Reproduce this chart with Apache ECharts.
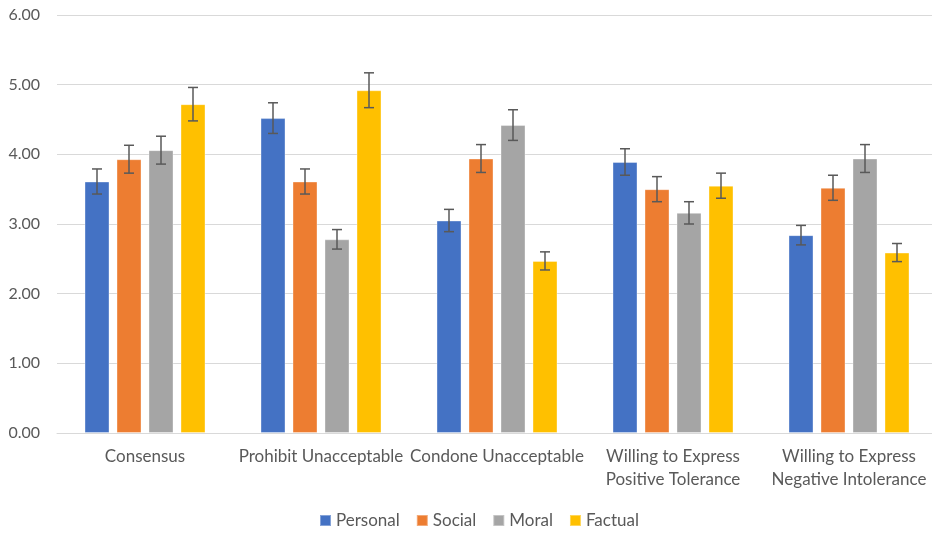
<!DOCTYPE html>
<html>
<head>
<meta charset="utf-8">
<script src="https://cdn.jsdelivr.net/npm/echarts@6/dist/echarts.min.js"></script>
<style>html,body{margin:0;padding:0;background:#fff;overflow:hidden}#c{width:937px;height:534px}</style>
</head>
<body>
<div id="c"></div>
<script>
const categories = ["Consensus", "Prohibit Unacceptable", "Condone Unacceptable", "Willing to Express\nPositive Tolerance", "Willing to Express\nNegative Intolerance"];
const seriesNames = ["Personal", "Social", "Moral", "Factual"];
const personal = [3.61, 4.52, 3.05, 3.89, 2.84];
const social   = [3.93, 3.61, 3.94, 3.50, 3.52];
const moral    = [4.06, 2.78, 4.42, 3.16, 3.94];
const factual  = [4.72, 4.92, 2.47, 3.55, 2.59];
const personalErr = [0.18, 0.22, 0.16, 0.19, 0.14];
const socialErr   = [0.20, 0.18, 0.20, 0.18, 0.18];
const moralErr    = [0.20, 0.14, 0.22, 0.16, 0.20];
const factualErr  = [0.24, 0.25, 0.13, 0.18, 0.13];
const yTicks = [0, 1, 2, 3, 4, 5, 6];

const colors = ["#4472C4", "#ED7D31", "#A5A5A5", "#FFC000"];
const values = [personal, social, moral, factual];
const errs = [personalErr, socialErr, moralErr, factualErr];
const BAR_W = 25, BAR_GAP = '28%';
const FONT = 'Lato, "Open Sans", sans-serif';

const chart = echarts.init(document.getElementById('c'), null, {renderer: 'canvas'});

const barSeries = seriesNames.map((n, i) => ({
  name: n, type: 'bar', data: values[i], barWidth: BAR_W, barGap: BAR_GAP,
  itemStyle: {color: colors[i], borderColor: 'rgba(255,255,255,0.35)', borderWidth: 1},
  emphasis: {disabled: true}, z: 2
}));

const errSeries = seriesNames.map((n, si) => ({
  type: 'custom', name: n + ' err', silent: true, z: 5,
  data: values[si].map((v, ci) => [ci, v - errs[si][ci], v + errs[si][ci]]),
  renderItem: function (params, api) {
    const ci = api.value(0);
    const lo = api.coord([ci, api.value(1)]);
    const hi = api.coord([ci, api.value(2)]);
    const layout = api.barLayout({barWidth: BAR_W, barGap: BAR_GAP, count: 4});
    const x = lo[0] + layout[si].offsetCenter;
    const cap = 5;
    const style = {stroke: '#595959', lineWidth: 1.5};
    return {type: 'group', children: [
      {type: 'line', shape: {x1: x, y1: hi[1], x2: x, y2: lo[1]}, style},
      {type: 'line', shape: {x1: x - cap, y1: hi[1], x2: x + cap, y2: hi[1]}, style},
      {type: 'line', shape: {x1: x - cap, y1: lo[1], x2: x + cap, y2: lo[1]}, style}
    ]};
  }
}));

chart.setOption({
  animation: false,
  textStyle: {fontFamily: FONT},
  legend: {
    data: seriesNames, bottom: 0, left: 314, icon: 'rect', itemWidth: 11, itemHeight: 11, itemGap: 16,
    textStyle: {fontSize: 17, color: '#595959', fontFamily: FONT}
  },
  grid: {left: 57, right: 0, top: 15, bottom: 101, containLabel: false},
  xAxis: {
    type: 'category', data: categories,
    axisLine: {lineStyle: {color: '#D9D9D9', width: 1}},
    axisTick: {show: false},
    axisLabel: {interval: 0, fontSize: 17, color: '#595959', margin: 12, lineHeight: 23, fontFamily: FONT}
  },
  yAxis: {
    type: 'value', min: yTicks[0], max: yTicks[yTicks.length - 1], interval: 1,
    axisLine: {show: false}, axisTick: {show: false},
    splitLine: {lineStyle: {color: '#D9D9D9', width: 1}},
    axisLabel: {fontSize: 16, color: '#595959', margin: 17, fontFamily: FONT, formatter: v => v.toFixed(2)}
  },
  series: [...barSeries, ...errSeries]
});
</script>
</body>
</html>
